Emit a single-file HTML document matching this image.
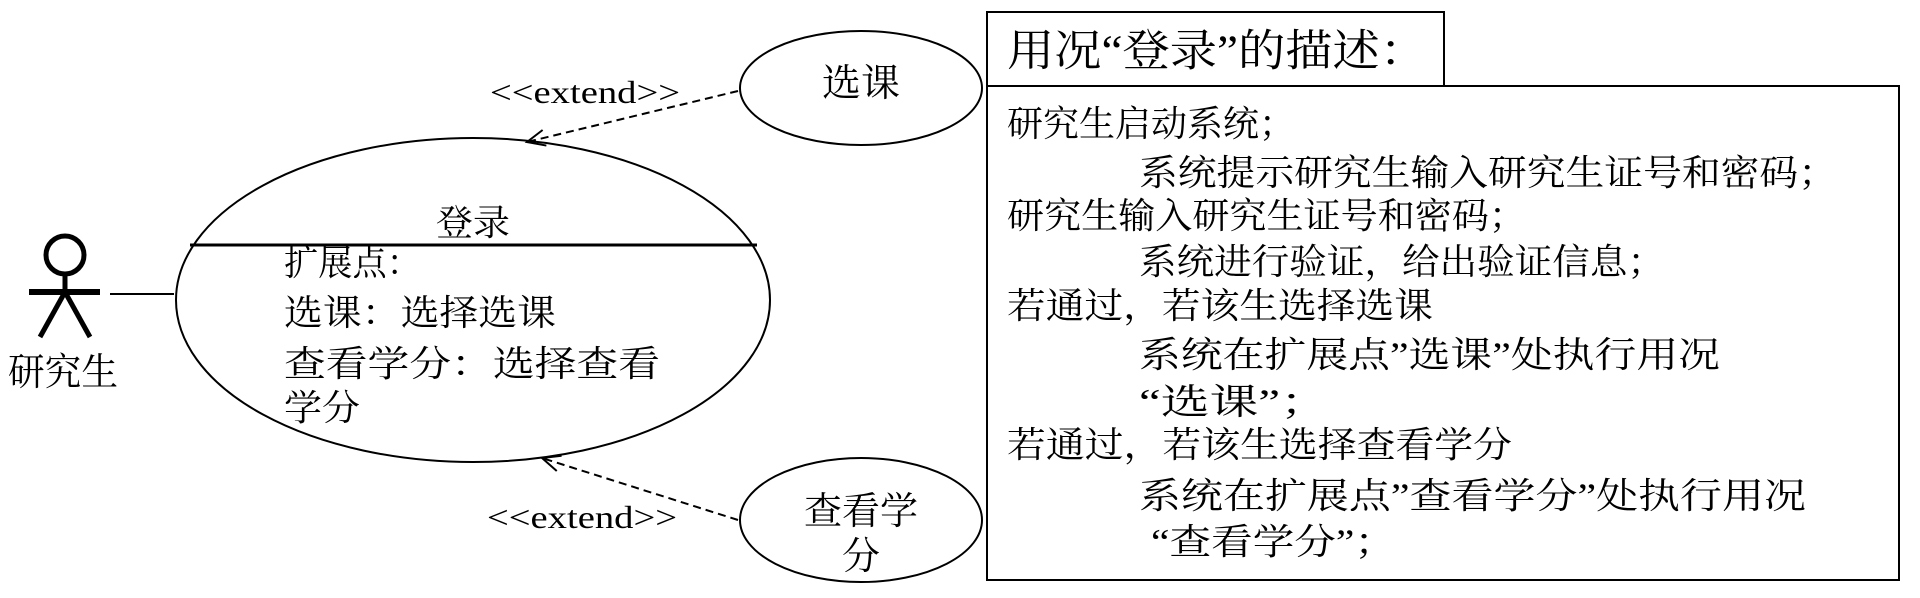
<!DOCTYPE html>
<html><head><meta charset="utf-8"><style>
html,body{margin:0;padding:0;background:#fff;}
svg{display:block;}
text{font-family:"Liberation Serif","Noto Serif CJK SC",serif;fill:#000;}
</style></head><body>
<svg width="1920" height="598" viewBox="0 0 1920 598" xmlns="http://www.w3.org/2000/svg">
<defs>
<marker id="ah" markerWidth="24" markerHeight="24" refX="20" refY="10" orient="auto" markerUnits="userSpaceOnUse">
<path d="M2,2 L20,10 L2,18" fill="none" stroke="#000" stroke-width="2"/>
</marker>
</defs>
<circle cx="65" cy="255" r="19" fill="none" stroke="#000" stroke-width="5"/>
<line x1="65" y1="274" x2="65" y2="292" stroke="#000" stroke-width="5"/>
<line x1="29" y1="292" x2="100" y2="292" stroke="#000" stroke-width="6"/>
<line x1="65" y1="292" x2="40" y2="337" stroke="#000" stroke-width="5"/>
<line x1="65" y1="292" x2="90" y2="337" stroke="#000" stroke-width="5"/>
<line x1="110" y1="294" x2="174" y2="294" stroke="#000" stroke-width="2"/>
<text x="8" y="373" font-size="38" dominant-baseline="central" textLength="110" lengthAdjust="spacingAndGlyphs">研究生</text>
<ellipse cx="473" cy="300" rx="297" ry="162" fill="none" stroke="#000" stroke-width="2"/>
<line x1="190" y1="245" x2="757" y2="245" stroke="#000" stroke-width="3"/>
<text x="436" y="223" font-size="36" dominant-baseline="central" textLength="74" lengthAdjust="spacingAndGlyphs">登录</text>
<text x="284" y="263" font-size="36" dominant-baseline="central" textLength="137" lengthAdjust="spacingAndGlyphs">扩展点：</text>
<text x="284" y="313" font-size="36" dominant-baseline="central" textLength="272" lengthAdjust="spacingAndGlyphs">选课：选择选课</text>
<text x="284" y="364" font-size="36" dominant-baseline="central" textLength="376" lengthAdjust="spacingAndGlyphs">查看学分：选择查看</text>
<text x="284" y="408" font-size="36" dominant-baseline="central" textLength="76" lengthAdjust="spacingAndGlyphs">学分</text>
<ellipse cx="861" cy="88" rx="121" ry="57" fill="none" stroke="#000" stroke-width="2"/>
<text x="822" y="84" font-size="38" dominant-baseline="central" textLength="78" lengthAdjust="spacingAndGlyphs">选课</text>
<ellipse cx="861" cy="520" rx="121" ry="62" fill="none" stroke="#000" stroke-width="2"/>
<text x="804" y="512" font-size="38" dominant-baseline="central" textLength="114" lengthAdjust="spacingAndGlyphs">查看学</text>
<text x="861" y="557" font-size="38" text-anchor="middle" dominant-baseline="central">分</text>
<line x1="738" y1="91" x2="527" y2="142" stroke="#000" stroke-width="2" stroke-dasharray="8,5" marker-end="url(#ah)"/>
<text x="490" y="92" font-size="32" dominant-baseline="central" textLength="190" lengthAdjust="spacingAndGlyphs">&lt;&lt;extend&gt;&gt;</text>
<line x1="738" y1="520" x2="542" y2="458" stroke="#000" stroke-width="2" stroke-dasharray="8,5" marker-end="url(#ah)"/>
<text x="487" y="517" font-size="32" dominant-baseline="central" textLength="190" lengthAdjust="spacingAndGlyphs">&lt;&lt;extend&gt;&gt;</text>
<rect x="987" y="12" width="457" height="74" fill="none" stroke="#000" stroke-width="2"/>
<text x="1007" y="51" font-size="44" dominant-baseline="central" textLength="420" lengthAdjust="spacingAndGlyphs">用况“登录”的描述：</text>
<rect x="987" y="86" width="912" height="494" fill="none" stroke="#000" stroke-width="2"/>
<g font-size="36">
<text x="1007" y="124" dominant-baseline="central" textLength="288" lengthAdjust="spacingAndGlyphs">研究生启动系统；</text>
<text x="1139" y="173" dominant-baseline="central" textLength="698" lengthAdjust="spacingAndGlyphs">系统提示研究生输入研究生证号和密码；</text>
<text x="1007" y="216" dominant-baseline="central" textLength="519" lengthAdjust="spacingAndGlyphs">研究生输入研究生证号和密码；</text>
<text x="1139" y="262" dominant-baseline="central" textLength="526" lengthAdjust="spacingAndGlyphs">系统进行验证，给出验证信息；</text>
<text x="1007" y="306" dominant-baseline="central" textLength="426" lengthAdjust="spacingAndGlyphs">若通过，若该生选择选课</text>
<text x="1139" y="355" dominant-baseline="central" textLength="581" lengthAdjust="spacingAndGlyphs">系统在扩展点”选课”处执行用况</text>
<text x="1139" y="402" dominant-baseline="central" textLength="190" lengthAdjust="spacingAndGlyphs">“选课”；</text>
<text x="1007" y="445" dominant-baseline="central" textLength="505" lengthAdjust="spacingAndGlyphs">若通过，若该生选择查看学分</text>
<text x="1139" y="496" dominant-baseline="central" textLength="667" lengthAdjust="spacingAndGlyphs">系统在扩展点”查看学分”处执行用况</text>
<text x="1151" y="542" dominant-baseline="central" textLength="245" lengthAdjust="spacingAndGlyphs">“查看学分”；</text>
</g>
</svg>
</body></html>
